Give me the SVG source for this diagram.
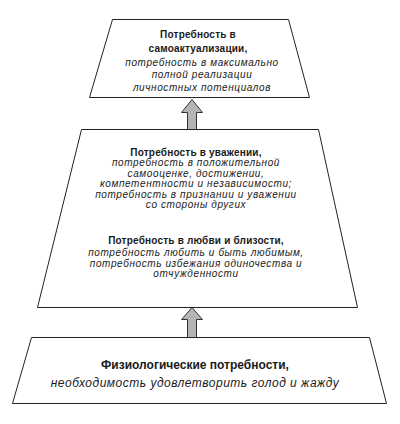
<svg xmlns="http://www.w3.org/2000/svg" width="400" height="424" viewBox="0 0 400 424">
<style>
.lvl{fill:#fff;stroke:#222;stroke-width:1}
.arr{fill:#b4b4b4;stroke:#333;stroke-width:1}
text{font-family:"Liberation Sans",Arial,sans-serif;fill:#1a1a1a;text-anchor:middle}
.b{font-weight:bold;font-size:10px;letter-spacing:0.2px}
.i{font-style:italic;font-size:10px;letter-spacing:0.6px}
.bb{font-weight:bold;font-size:12px}
.ii{font-style:italic;font-size:12px;letter-spacing:0.5px}
</style>
<rect width="400" height="424" fill="#fff"/>
<g id="connectors">
<path class="arr" d="M187.5,129.5 V112.5 H181.5 L192,99.5 L202.5,112.5 H196.5 V129.5 Z"/>
<path class="arr" d="M187.5,337.5 V319.5 H181.5 L192,307.5 L202.5,319.5 H196.5 V337.5 Z"/>
</g>
<g id="self-actualization">
<path class="lvl" d="M112.5,19.5 H288.5 L309.5,97.5 H89.5 Z"/>
<text class="b" x="198" y="38">Потребность в</text>
<text class="b" x="198" y="52">самоактуализации,</text>
<text class="i" x="202" y="66">потребность в максимально</text>
<text class="i" x="202" y="78">полной реализации</text>
<text class="i" x="202" y="91">личностных потенциалов</text>
</g>
<g id="esteem-love">
<path class="lvl" d="M81.5,129.5 H318.5 L357.5,307.5 H37.5 Z"/>
<text class="b" x="196" y="156">Потребность в уважении,</text>
<text class="i" x="196" y="166">потребность в положительной</text>
<text class="i" x="196" y="177">самооценке, достижении,</text>
<text class="i" x="196" y="187">компетентности и независимости;</text>
<text class="i" x="196" y="198">потребность в признании и уважении</text>
<text class="i" x="196" y="208">со стороны других</text>
<text class="b" x="196" y="244">Потребность в любви и близости,</text>
<text class="i" x="196" y="256">потребность любить и быть любимым,</text>
<text class="i" x="196" y="267">потребность избежания одиночества и</text>
<text class="i" x="196" y="277">отчужденности</text>
</g>
<g id="physiological">
<path class="lvl" d="M31.5,337.5 H369.5 L386.5,403.5 H12.5 Z"/>
<text class="bb" x="195" y="369">Физиологические потребности,</text>
<text class="ii" x="195" y="387">необходимость удовлетворить голод и жажду</text>
</g>
</svg>
